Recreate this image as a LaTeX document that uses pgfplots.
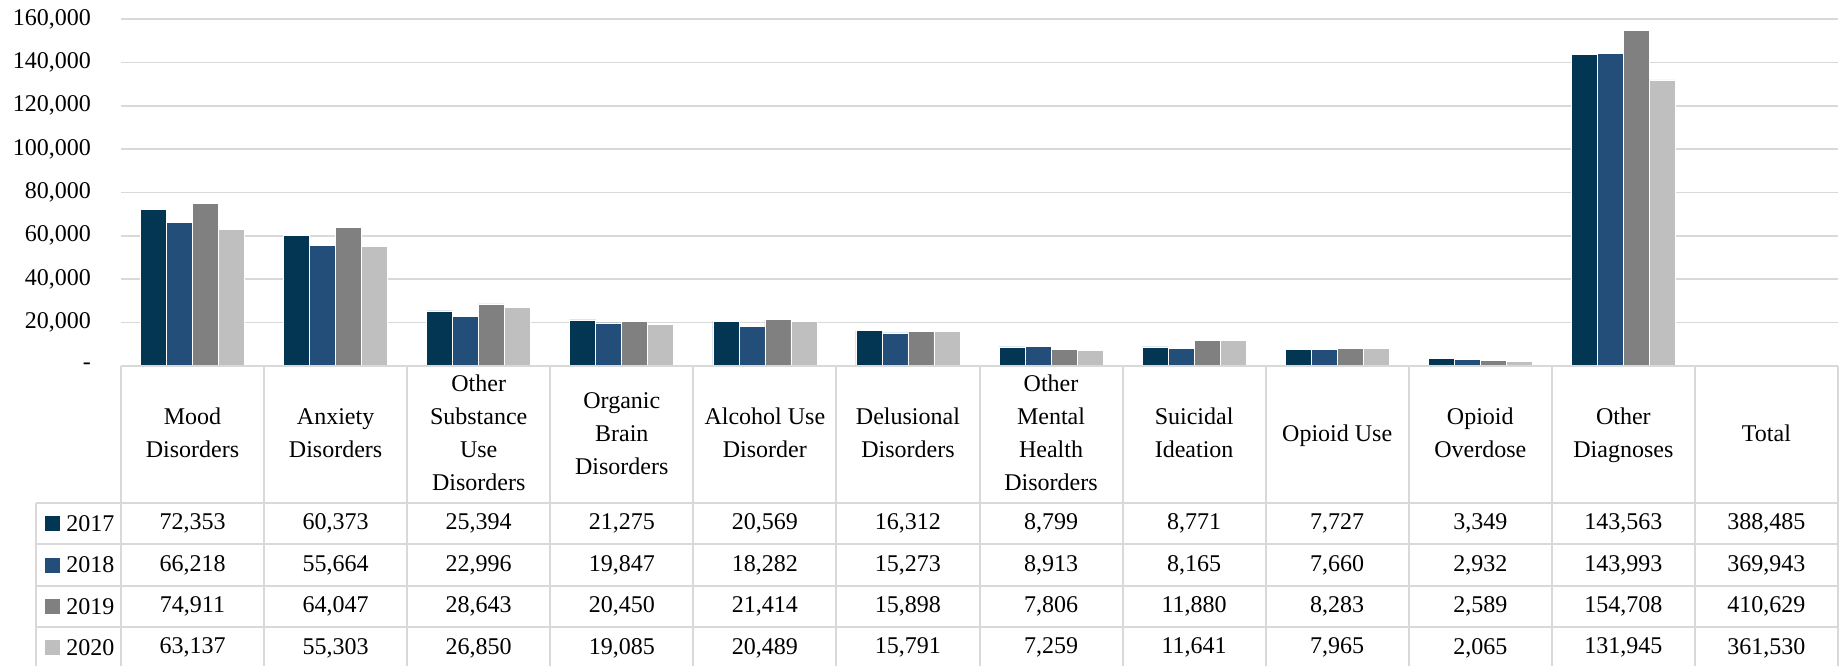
\documentclass[border=0pt]{standalone}
\usepackage{fontspec}
\setmainfont{Liberation Serif}
\usepackage{pgfplots}
\usepackage{pgfplotstable}
\pgfplotsset{compat=1.18}
\definecolor{c17}{RGB}{3,54,82}
\definecolor{c18}{RGB}{35,78,121}
\definecolor{c19}{RGB}{128,128,128}
\definecolor{c20}{RGB}{191,191,191}
\definecolor{gridc}{RGB}{217,217,217}

\pgfplotstableread{
x a b c d
0 72353 66218 74911 63137
1 60373 55664 64047 55303
2 25394 22996 28643 26850
3 21275 19847 20450 19085
4 20569 18282 21414 20489
5 16312 15273 15898 15791
6 8799 8913 7806 7259
7 8771 8165 11880 11641
8 7727 7660 8283 7965
9 3349 2932 2589 2065
10 143563 143993 154708 131945
}\datatable

\newcommand{\tf}{\fontsize{12}{16.5}\selectfont}

\begin{document}
\begin{tikzpicture}
\begin{axis}[
  scale only axis,
  width=858.5pt, height=173.5pt,
  xmin=-0.5, xmax=11.5, ymin=0, ymax=160000,
  xtick=\empty,
  scaled y ticks=false,
  ytick={0,20000,40000,60000,80000,100000,120000,140000,160000},
  yticklabels={{-\hspace{6.5pt}},{20,000},{40,000},{60,000},{80,000},{100,000},{120,000},{140,000},{160,000}},
  yticklabel style={font=\tf, xshift=-11.5pt},
  major tick length=0pt,
  ymajorgrids,
  grid style={gridc, line width=0.8pt},
  axis line style={draw=none},
  clip=false,
]
\addplot[ybar, bar width=13pt, bar shift=-19.5pt, fill=c17, draw=white, line width=0.3pt] table[x=x,y=a]{\datatable};
\addplot[ybar, bar width=13pt, bar shift=-6.5pt, fill=c18, draw=white, line width=0.3pt] table[x=x,y=b]{\datatable};
\addplot[ybar, bar width=13pt, bar shift=6.5pt, fill=c19, draw=white, line width=0.3pt] table[x=x,y=c]{\datatable};
\addplot[ybar, bar width=13pt, bar shift=19.5pt, fill=c20, draw=white, line width=0.3pt] table[x=x,y=d]{\datatable};

\pgfplotsextra{
  % baseline
  \draw[gridc, line width=1pt] (axis cs:-0.5,0) -- (axis cs:11.5,0);
  % vertical lines
  \foreach \k in {0,...,12} {
    \draw[gridc, line width=1pt] (axis cs:\k-0.5,0) -- (axis cs:\k-0.5,-139530);
  }
  \draw[gridc, line width=1pt] (axis cs:-1.094,-63309) -- (axis cs:-1.094,-139530);
  % horizontal lines
  \foreach \yy in {-63309,-82214,-101442,-120485} {
    \draw[gridc, line width=1pt] (axis cs:-1.094,\yy) -- (axis cs:11.5,\yy);
  }
  % headers
  \foreach \t [count=\i from 0] in {{Mood\\Disorders},{Anxiety\\Disorders},{Other\\Substance\\Use\\Disorders},{Organic\\Brain\\Disorders},{Alcohol Use\\Disorder},{Delusional\\Disorders},{Other\\Mental\\Health\\Disorders},{Suicidal\\Ideation},{Opioid Use},{Opioid\\Overdose},{Other\\Diagnoses},{Total}} {
    \node[align=center, font=\tf, inner sep=0pt] at (axis cs:\i,-31585) {\strut\t\strut};
  }
  % legend keys
  \foreach \c/\yr/\yy in {c17/2017/-72762, c18/2018/-91806, c19/2019/-110942, c20/2020/-129985} {
    \fill[\c] (axis cs:-0.979,\yy) ++(-3.75pt,-3.75pt) rectangle ++(7.5pt,7.5pt);
    \node[anchor=west, font=\tf, inner sep=0pt] at (axis cs:-0.8844,\yy) {\yr};
  }
  % values
  \foreach \v [count=\i from 0] in {{72,353},{60,373},{25,394},{21,275},{20,569},{16,312},{8,799},{8,771},{7,727},{3,349},{143,563},{388,485}} {
    \node[font=\tf, inner sep=0pt] at (axis cs:\i,-72762) {\v};
  }
  \foreach \v [count=\i from 0] in {{66,218},{55,664},{22,996},{19,847},{18,282},{15,273},{8,913},{8,165},{7,660},{2,932},{143,993},{369,943}} {
    \node[font=\tf, inner sep=0pt] at (axis cs:\i,-91806) {\v};
  }
  \foreach \v [count=\i from 0] in {{74,911},{64,047},{28,643},{20,450},{21,414},{15,898},{7,806},{11,880},{8,283},{2,589},{154,708},{410,629}} {
    \node[font=\tf, inner sep=0pt] at (axis cs:\i,-110942) {\v};
  }
  \foreach \v [count=\i from 0] in {{63,137},{55,303},{26,850},{19,085},{20,489},{15,791},{7,259},{11,641},{7,965},{2,065},{131,945},{361,530}} {
    \node[font=\tf, inner sep=0pt] at (axis cs:\i,-129985) {\v};
  }
  \coordinate (bl) at (axis cs:-1.3457,-138330);
  \coordinate (tr) at (axis cs:11.549,168761);
}
\end{axis}
\pgfresetboundingbox
\useasboundingbox (bl) rectangle (tr);
\end{tikzpicture}
\end{document}
